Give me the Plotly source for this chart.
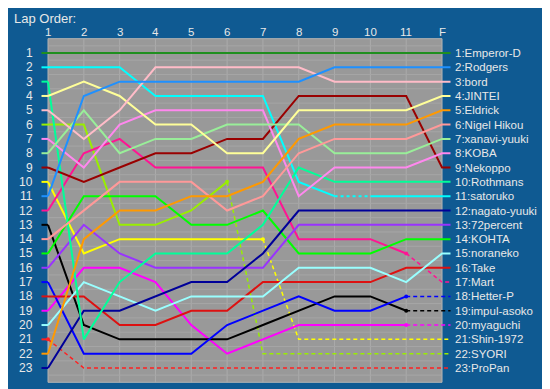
import plotly.graph_objects as go

# ---------------- data ----------------
lap_labels = ["1", "2", "3", "4", "5", "6", "7", "8", "9", "10", "11", "F"]
lap_x = list(range(1, 13))
rank_labels = [str(i) for i in range(1, 24)]

names = ["Emperor-D", "Rodgers", "bord", "JINTEI", "Eldrick", "Nigel Hikou",
         "xanavi-yuuki", "KOBA", "Nekoppo", "Rothmans", "satoruko",
         "nagato-yuuki", "72percent", "KOHTA", "noraneko", "Take", "Mart",
         "Hetter-P", "impul-asoko", "myaguchi", "Shin-1972", "SYORI", "ProPan"]

colors = ["#1f8f1f", "#1e90ff", "#ffbcc8", "#ffff99", "#ff9900", "#ff9999",
          "#99ee99", "#ff88ee", "#990000", "#00ff99", "#00ffff",
          "#000099", "#9933ff", "#00ff00", "#99ffff", "#dd1111", "#ff1493",
          "#0000ff", "#000000", "#ff00ff", "#ffff00", "#99ee00", "#ff2020"]

emperor_d    = [1, 1, 1, 1, 1, 1, 1, 1, 1, 1, 1, 1]
rodgers      = [11, 4, 3, 3, 3, 3, 3, 3, 2, 2, 2, 2]
bord         = [5, 7, 5, 2, 2, 2, 2, 2, 3, 3, 3, 3]
jintei       = [4, 3, 4, 6, 6, 8, 8, 5, 5, 5, 5, 4]
eldrick      = [22, 14, 12, 12, 11, 11, 10, 7, 6, 6, 6, 5]
nigel_hikou  = [14, 12, 10, 10, 10, 12, 11, 8, 7, 7, 7, 6]
xanavi_yuuki = [8, 5, 8, 7, 7, 6, 6, 6, 8, 8, 8, 7]
koba         = [7, 9, 6, 5, 5, 5, 5, 11, 9, 9, 9, 8]
nekoppo      = [9, 10, 9, 8, 8, 7, 7, 4, 4, 4, 4, 9]
rothmans     = [3, 21, 17, 15, 15, 15, 13, 9, 10, 10, 10, 10]
satoruko     = [2, 2, 2, 4, 4, 4, 4, 10, 11, 11, 11, 11]
nagato_yuuki = [23, 19, 19, 18, 17, 17, 15, 12, 12, 12, 12, 12]
percent72    = [16, 13, 15, 16, 16, 16, 16, 13, 13, 13, 13, 13]
kohta        = [15, 11, 11, 11, 13, 13, 12, 15, 15, 15, 14, 14]
noraneko     = [20, 17, 18, 19, 18, 18, 18, 16, 16, 16, 17, 15]
take         = [18, 18, 20, 20, 19, 19, 17, 17, 17, 17, 16, 16]
mart         = [12, 8, 7, 9, 9, 9, 9, 14, 14, 14, 15, 17]
hetter_p     = [17, 22, 22, 22, 22, 20, 19, 18, 19, 19, 18, 18]
impul_asoko  = [13, 20, 21, 21, 21, 21, 20, 19, 18, 18, 19, 19]
myaguchi     = [19, 16, 16, 17, 20, 22, 21, 20, 20, 20, 20, 20]
shin_1972    = [10, 15, 14, 14, 14, 14, 14, 21, 21, 21, 21, 21]
syori        = [6, 6, 13, 13, 12, 10, 22, 22, 22, 22, 22, 22]
propan       = [21, 23, 23, 23, 23, 23, 23, 23, 23, 23, 23, 23]

positions = [emperor_d, rodgers, bord, jintei, eldrick, nigel_hikou,
             xanavi_yuuki, koba, nekoppo, rothmans, satoruko, nagato_yuuki,
             percent72, kohta, noraneko, take, mart, hetter_p, impul_asoko,
             myaguchi, shin_1972, syori, propan]

# index of the last lap actually run (afterwards: dashed classification line)
last_run = [11, 11, 11, 11, 11, 11, 11, 11, 11, 11, 11, 11,
            11, 11, 11, 11, 10, 10, 10, 10, 6, 5, 0]

# dotted (pit) segments: driver index -> list of (from_lap_index, to_lap_index)
dotted_segments = {10: [(8, 9)]}

# ---------------- styling / geometry ----------------
BG = "#0f5a92"
TXT = "#e8e8e8"
FONT = "Liberation Sans"
W, H = 550, 389
PX_X = 35.82            # px per lap
PX_Y = 14.318           # px per rank
x0 = 1 - 40 / PX_X
x1 = x0 + W / PX_X
y_top = 1 - 45 / PX_Y
y_bot = y_top + H / PX_Y
STUB_L = 1 - 6.5 / PX_X
STUB_R = 12 + 8.5 / PX_X

fig = go.Figure()

for i in reversed(range(len(names))):
    p = positions[i]
    c = colors[i]
    lr = last_run[i]
    # left stub
    fig.add_trace(go.Scatter(x=[STUB_L, lap_x[0]], y=[p[0], p[0]], mode="lines",
                             line=dict(color=c, width=2), hoverinfo="skip",
                             showlegend=False))
    # solid (run) part, broken at dotted segments
    xs, ys = [], []
    dots = dotted_segments.get(i, [])
    for k in range(lr + 1):
        if any(k == b for (a, b) in dots):
            xs.append(None)
            ys.append(None)
        xs.append(lap_x[k])
        ys.append(p[k])
    if lr == 11:
        xs.append(STUB_R)
        ys.append(p[11])
    if len(xs) > 1:
        fig.add_trace(go.Scatter(x=xs, y=ys, mode="lines",
                                 line=dict(color=c, width=2),
                                 hoverinfo="skip", showlegend=False))
    for (a, b) in dots:
        fig.add_trace(go.Scatter(x=[lap_x[a], lap_x[b]], y=[p[a], p[b]],
                                 mode="lines",
                                 line=dict(color=c, width=2, dash="3px,3px"),
                                 hoverinfo="skip", showlegend=False))
    # dashed classification part for retirements
    if lr < 11:
        dx = lap_x[lr:] + [STUB_R]
        dy = p[lr:] + [p[11]]
        fig.add_trace(go.Scatter(x=dx, y=dy, mode="lines",
                                 line=dict(color=c, width=1.5, dash="4px,3px"),
                                 hoverinfo="skip", showlegend=False))
        fig.add_trace(go.Scatter(x=[lap_x[lr]], y=[p[lr]], mode="markers",
                                 marker=dict(color=c, size=4),
                                 hoverinfo="skip", showlegend=False))

# plot box and grid
shapes = [dict(type="rect", xref="x", yref="y", x0=1, x1=12, y0=0, y1=24,
               fillcolor="#999999", line=dict(color="#b4b4b4", width=1),
               layer="below")]
for lx in lap_x[1:-1]:
    shapes.append(dict(type="line", xref="x", yref="y", x0=lx, x1=lx, y0=0, y1=24,
                       line=dict(color="#ababab", width=1), layer="below"))
for r in range(24):
    shapes.append(dict(type="line", xref="x", yref="y", x0=1, x1=12,
                       y0=r + 0.5, y1=r + 0.5,
                       line=dict(color="#a6a6a6", width=1), layer="below"))

ann = [dict(text="Lap Order:", x=4 / W, y=1 - 10 / H, xref="paper", yref="paper",
            xanchor="left", yanchor="middle", showarrow=False,
            font=dict(size=13, color=TXT, family=FONT))]
for k, lab in enumerate(lap_labels):
    ann.append(dict(text=lab, x=lap_x[k], y=y_top + 24 / PX_Y, xref="x", yref="y",
                    xanchor="center", yanchor="middle", showarrow=False,
                    font=dict(size=11.5, color=TXT, family=FONT)))
for r, lab in enumerate(rank_labels):
    ann.append(dict(text=lab, x=1 - 13 / PX_X, y=r + 1, xref="x", yref="y",
                    xanchor="right", yanchor="middle", showarrow=False,
                    font=dict(size=12, color=TXT, family=FONT)))
final_order = sorted(range(len(names)), key=lambda j: positions[j][11])
for j in final_order:
    ann.append(dict(text=f"{positions[j][11]}:{names[j]}", x=STUB_R + 2 / PX_X,
                    y=positions[j][11], xref="x", yref="y",
                    xanchor="left", yanchor="middle", showarrow=False,
                    font=dict(size=11.5, color=TXT, family=FONT)))

fig.update_layout(
    width=W, height=H, margin=dict(l=0, r=0, t=0, b=0),
    paper_bgcolor=BG, plot_bgcolor=BG,
    font=dict(family=FONT, color=TXT),
    xaxis=dict(range=[x0, x1], visible=False, fixedrange=True),
    yaxis=dict(range=[y_bot, y_top], visible=False, fixedrange=True),
    shapes=shapes, annotations=ann, showlegend=False,
)

fig.write_html("out.html")
